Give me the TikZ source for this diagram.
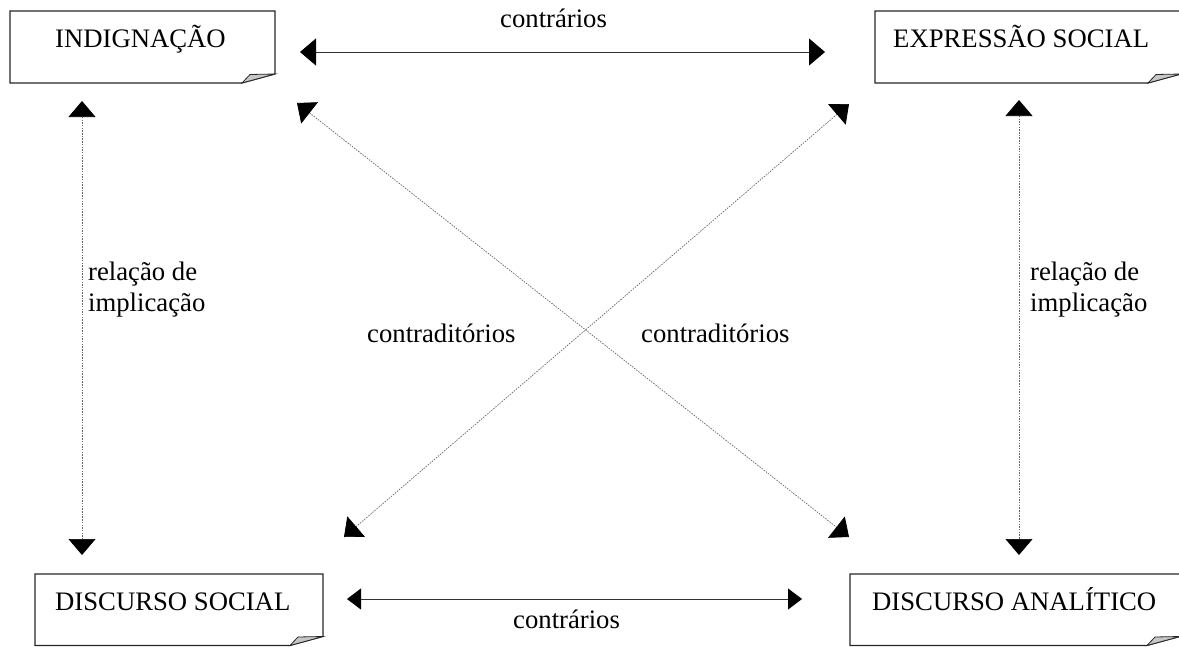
\documentclass[tikz,border=0pt]{standalone}
\usepackage{fontspec}
\setmainfont{Liberation Serif}
\usetikzlibrary{arrows.meta}
\tikzset{
  boxline/.style={draw=black!85, line width=1.1pt, line join=miter},
  foldfill/.style={draw=black!85, line width=0.8pt, fill=black!22},
  lbl/.style={inner sep=0pt, anchor=base west, font=\fontsize{26.7}{31}\selectfont},
  bighead/.tip={Triangle[length=16pt,width=27pt,color=black]},
  smallhead/.tip={Triangle[length=14pt,width=21pt,color=black]},
  solidarrow/.style={draw=black!80, line width=0.8pt, bighead-bighead},
  smallarrow/.style={draw=black!80, line width=0.8pt, smallhead-smallhead},
  dotarrow/.style={draw=black!60, line width=0.7pt, dash pattern=on 1.5pt off 1.2pt, bighead-bighead},
}
\newcommand{\foldbox}[4]{%
  \draw[boxline] (#1,#4) -- (#1,#2) -- (#3,#2) -- (#3,#4-9) -- (#3-33,#4) -- cycle;
  \draw[foldfill] (#3-33,#4) -- (#3-25,#4-8.5) -- (#3,#4-9) -- cycle;
}
\begin{document}
\begin{tikzpicture}[x=1pt,y=-1pt]
\useasboundingbox (0,0) rectangle (1179,646);
% boxes
\foldbox{10}{11}{275}{83}
\foldbox{875}{11}{1181}{83}
\foldbox{35}{574}{323}{645.5}
\foldbox{850}{574}{1180}{645.5}
% box labels
\node[lbl] (ind) at (55,47) {INDIGNAÇÃO};
\node[lbl] (exp) at (893,47) {EXPRESSÃO SOCIAL};
\node[lbl] (ds) at (55,610) {DISCURSO SOCIAL};
\node[lbl] (da) at (872,610) {DISCURSO ANALÍTICO};
% connector labels
\node[lbl] (ct) at (500,27) {contrários};
\node[lbl] (cb) at (513,628) {contrários};
\node[lbl] (rl1) at (88,280) {relação de};
\node[lbl] (il1) at (88,311) {implicação};
\node[lbl] (rl2) at (1030,280) {relação de};
\node[lbl] (il2) at (1030,311) {implicação};
\node[lbl] (cd1) at (367,342) {contraditórios};
\node[lbl] (cd2) at (641,342) {contraditórios};
% arrow end points
\coordinate (th1) at (300,52);
\coordinate (th2) at (825,52);
\coordinate (bh1) at (347,599);
\coordinate (bh2) at (802,599);
\coordinate (lv1) at (82,101);
\coordinate (lv2) at (82,555);
\coordinate (rv1) at (1019,100);
\coordinate (rv2) at (1019,555);
\coordinate (d1a) at (297,103);
\coordinate (d1b) at (849,537);
\coordinate (d2a) at (344,537);
\coordinate (d2b) at (849,104);
% connectors
\draw[solidarrow] (th1) -- (th2);
\draw[smallarrow] (bh1) -- (bh2);
\draw[dotarrow] (lv1) -- (lv2);
\draw[dotarrow] (rv1) -- (rv2);
\draw[dotarrow] (d1a) -- (d1b);
\draw[dotarrow] (d2a) -- (d2b);
\end{tikzpicture}
\end{document}
